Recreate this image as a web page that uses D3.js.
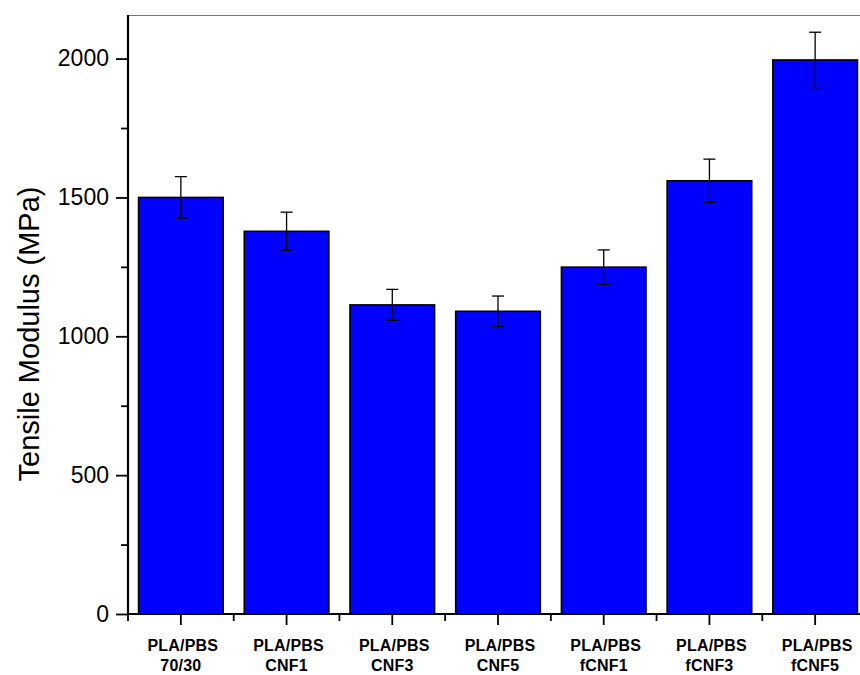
<!DOCTYPE html>
<html>
<head>
<meta charset="utf-8">
<script src="https://cdn.jsdelivr.net/npm/d3@7"></script>
<style>
  html, body { margin: 0; padding: 0; background: #fff; }
  svg { display: block; }
</style>
</head>
<body>
<svg id="chart" width="860" height="675"></svg>
<script>
// ---- data ----
const categories = ["PLA/PBS 70/30", "PLA/PBS CNF1", "PLA/PBS CNF3", "PLA/PBS CNF5", "PLA/PBS fCNF1", "PLA/PBS fCNF3", "PLA/PBS fCNF5"];
const labelLine1 = ["PLA/PBS", "PLA/PBS", "PLA/PBS", "PLA/PBS", "PLA/PBS", "PLA/PBS", "PLA/PBS"];
const labelLine2 = ["70/30", "CNF1", "CNF3", "CNF5", "fCNF1", "fCNF3", "fCNF5"];
const modulus = [1500, 1378, 1113, 1090, 1249, 1560, 1995];
const errors = [75, 69, 56, 55, 62, 78, 100];
const yTicks = [0, 500, 1000, 1500, 2000];
const yMinorTicks = [250, 750, 1250, 1750];
const yTitle = "Tensile Modulus (MPa)";

// ---- layout ----
const svg = d3.select("#chart");
const pLeft = 128, pRight = 868, pTop = 15, pBottom = 614;
const x = d3.scaleBand().domain(categories).range([pLeft, pRight]).paddingInner(0.2).paddingOuter(0.1);
const y = d3.scaleLinear().domain([0, 2157]).range([pBottom, pTop]);

// top border
svg.append("line").attr("x1", pLeft).attr("x2", 860).attr("y1", pTop + 0.5).attr("y2", pTop + 0.5)
  .attr("stroke", "#777").attr("stroke-width", 1.2);

// bars
svg.append("g").selectAll("rect").data(modulus).join("rect")
  .attr("x", (d, i) => x(categories[i]))
  .attr("width", x.bandwidth())
  .attr("y", d => y(d))
  .attr("height", d => y(0) - y(d))
  .attr("fill", "#0000ff")
  .attr("stroke", "#000")
  .attr("stroke-width", 1.6);

// error bars
const eg = svg.append("g").attr("stroke", "#000").attr("stroke-width", 1.3);
modulus.forEach((d, i) => {
  const cx = x(categories[i]) + x.bandwidth() / 2;
  eg.append("line").attr("x1", cx).attr("x2", cx).attr("y1", y(d + errors[i])).attr("y2", y(d - errors[i]));
  eg.append("line").attr("x1", cx - 6).attr("x2", cx + 6).attr("y1", y(d + errors[i])).attr("y2", y(d + errors[i]));
  eg.append("line").attr("x1", cx - 6).attr("x2", cx + 6).attr("y1", y(d - errors[i])).attr("y2", y(d - errors[i]));
});

// y axis
const yAxis = svg.append("g").attr("transform", `translate(${pLeft},0)`)
  .call(d3.axisLeft(y).tickValues(yTicks).tickSize(12).tickPadding(7).tickFormat(d3.format("d")));
yAxis.select(".domain").attr("stroke-width", 2.2).attr("d", `M0,${pBottom}V${pTop}`);
yAxis.selectAll(".tick line").attr("stroke-width", 1.8);
yAxis.selectAll(".tick text").attr("font-family", "Liberation Sans, Arial, sans-serif")
  .attr("font-size", 23).attr("fill", "#000");
svg.append("g").attr("transform", `translate(${pLeft},0)`)
  .call(d3.axisLeft(y).tickValues(yMinorTicks).tickSize(7).tickFormat(""))
  .call(g => g.select(".domain").remove())
  .selectAll(".tick line").attr("stroke-width", 1.8);

// x axis
const xAxis = svg.append("g").attr("transform", `translate(0,${pBottom})`)
  .call(d3.axisBottom(x).tickSize(11).tickFormat(""));
xAxis.select(".domain").attr("stroke-width", 2.2).attr("d", `M${pLeft},0H${pRight}`);
xAxis.selectAll(".tick line").attr("stroke-width", 1.8);
// minor ticks at band boundaries
const step = x.step();
const boundaries = categories.map((c, i) => x(c) - x.paddingInner() * step / 2);
xAxis.selectAll("line.minor").data(boundaries).join("line").attr("class", "minor")
  .attr("x1", d => d).attr("x2", d => d).attr("y1", 0).attr("y2", 7)
  .attr("stroke", "#000").attr("stroke-width", 1.8);

// x labels
const lg = svg.append("g").attr("font-family", "Liberation Sans, Arial, sans-serif")
  .attr("font-weight", "bold").attr("font-size", 16).attr("text-anchor", "middle").attr("fill", "#000")
  .attr("letter-spacing", "0.2");
categories.forEach((c, i) => {
  const cx = x(c) + x.bandwidth() / 2;
  lg.append("text").attr("x", cx + 2).attr("y", 651).text(labelLine1[i]);
  lg.append("text").attr("x", cx).attr("y", 671).text(labelLine2[i]);
});

// y title
svg.append("text")
  .attr("transform", `translate(39,${(186 + 482) / 2}) rotate(-90)`)
  .attr("text-anchor", "middle")
  .attr("font-family", "Liberation Sans, Arial, sans-serif")
  .attr("font-size", 29).attr("fill", "#000")
  .text(yTitle);
</script>
</body>
</html>
